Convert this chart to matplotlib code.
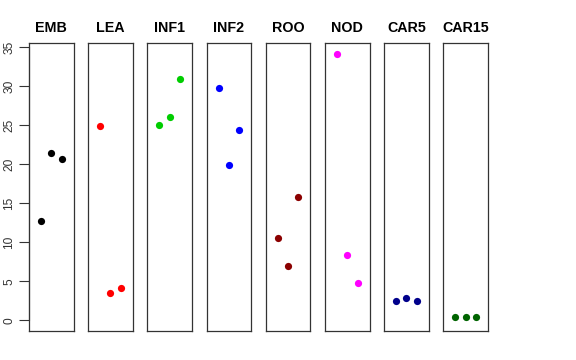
# Strip-style panels of three values per tissue, base-R look
import numpy as np
import matplotlib
matplotlib.use("Agg")
import matplotlib.pyplot as plt

# DATA ================================================================
tissues = ["EMB", "LEA", "INF1", "INF2", "ROO", "NOD", "CAR5", "CAR15"]
rep1 = [12.7, 24.9, 25.0, 29.8, 10.6, 34.2, 2.44, 0.46]
rep2 = [21.4, 3.47, 26.1, 19.9, 7.0, 8.4, 2.86, 0.46]
rep3 = [20.7, 4.19, 31.0, 24.4, 15.8, 4.75, 2.44, 0.46]
colours = ["black", "#FF0000", "#00CD00", "#0000FF",
           "#8B0000", "#FF00FF", "#00008B", "#006400"]
yticks = [0, 5, 10, 15, 20, 25, 30, 35]
# =====================================================================

plt.rcParams['font.family'] = ['Liberation Sans', 'DejaVu Sans']

W, H = 576, 360
fig = plt.figure(figsize=(W / 100, H / 100), dpi=100)

ymax = max(max(rep1), max(rep2), max(rep3))
pad = 0.04 * ymax
ylo, yhi = 0 - pad, ymax + pad

left0, step, pw = 29, 59.2, 44.5
top, bottom = 43, 331

for i, name in enumerate(tissues):
    x0 = left0 + i * step
    ax = fig.add_axes([x0 / W, (H - bottom) / H, pw / W, (bottom - top) / H])
    vals = [rep1[i], rep2[i], rep3[i]]
    ax.plot([1, 2, 3], vals, 'o', color=colours[i], ms=5.2, mec='none')
    ax.set_xlim(-0.16, 4.16)
    ax.set_ylim(ylo, yhi)
    ax.set_xticks([])
    for s in ax.spines.values():
        s.set_linewidth(0.9)
        s.set_color('#333333')
    ax.set_title(name, fontsize=10.3, fontweight='bold', pad=8)
    if i == 0:
        ax.spines['left'].set_visible(False)
        ax.set_yticks(yticks)
        ax.set_yticklabels([str(t) for t in yticks], rotation=90,
                           va='center', fontsize=8.6)
        ax.tick_params(axis='y', length=7, width=0.8, pad=3, colors='#333333')
        # separate axis line, only between first and last tick
        ax.plot([0, 0], [yticks[0], yticks[-1]], transform=ax.get_yaxis_transform(),
                color='#333333', lw=0.8, clip_on=False)
        ax.plot([0, 0], [ylo, yhi], transform=ax.get_yaxis_transform(),
                color='#333333', lw=0.9, clip_on=False)
    else:
        ax.set_yticks([])

fig.savefig("out.png", dpi=100)
